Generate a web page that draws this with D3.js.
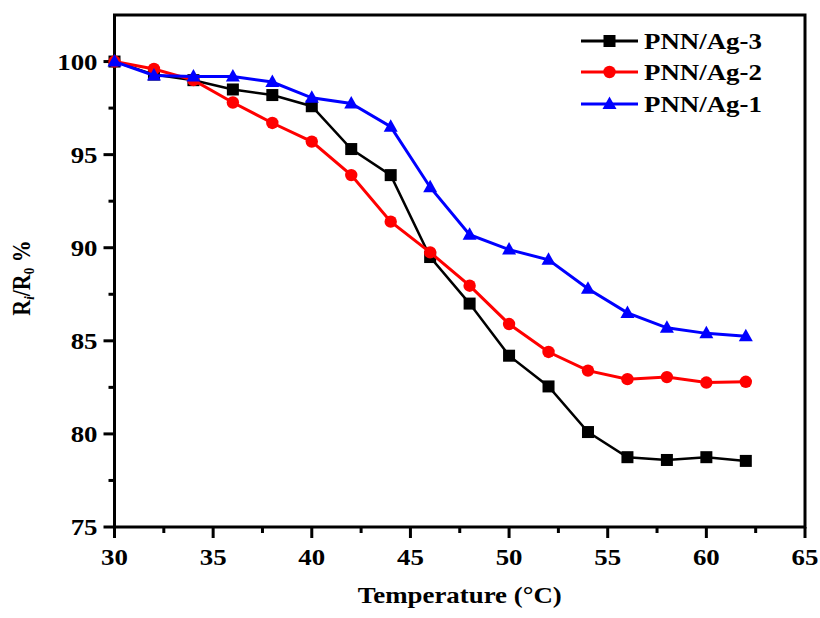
<!DOCTYPE html>
<html>
<head>
<meta charset="utf-8">
<script src="https://cdn.jsdelivr.net/npm/d3@7"></script>
<style>
  html, body { margin: 0; padding: 0; background: #fff; }
  svg { display: block; }
  text { font-family: "Liberation Serif", "Times New Roman", serif; font-weight: bold; fill: #000; }
</style>
</head>
<body>
<svg id="chart" width="820" height="618"></svg>
<script>
// Temperature points (°C)
const temperature = [30, 32, 34, 36, 38, 40, 42, 44, 46, 48, 50, 52, 54, 56, 58, 60, 62];

// Relative resistance Ri/R0 (%) for each sample
const ag3 = [100, 99.3, 99.0, 98.5, 98.2, 97.6, 95.3, 93.9, 89.5, 87.0, 84.2, 82.55, 80.1, 78.75, 78.6, 78.75, 78.55];
const ag2 = [100, 99.6, 99.0, 97.8, 96.7, 95.7, 93.9, 91.4, 89.75, 87.96, 85.9, 84.4, 83.4, 82.94, 83.05, 82.76, 82.8];
const ag1 = [100, 99.25, 99.2, 99.2, 98.9, 98.05, 97.75, 96.5, 93.25, 90.7, 89.9, 89.35, 87.8, 86.5, 85.7, 85.4, 85.25];

const seriesNames = ["PNN/Ag-3", "PNN/Ag-2", "PNN/Ag-1"];
const seriesColors = ["#000000", "#ff0000", "#0000ff"];
const seriesShapes = ["square", "circle", "triangle"];

const xTicks = [30, 35, 40, 45, 50, 55, 60, 65];
const yTicks = [75, 80, 85, 90, 95, 100];

const series = [ag3, ag2, ag1].map((vals, i) => ({
  name: seriesNames[i],
  color: seriesColors[i],
  shape: seriesShapes[i],
  points: vals.map((v, j) => ({ t: temperature[j], v }))
}));

const svg = d3.select("#chart");
const plot = { left: 114.5, right: 805, top: 15, bottom: 527 };
const stretch = 1.12; // horizontal stretch of text glyphs

const x = d3.scaleLinear().domain([30, 65]).range([plot.left, plot.right]);
const y = d3.scaleLinear().domain([75, 102.5]).range([plot.bottom, plot.top]);

// Minor ticks
const xMinor = d3.range(32.5, 65, 5);
const yMinor = d3.range(77.5, 102.5, 5);

const axisG = svg.append("g");
axisG.selectAll(".xmaj").data(xTicks).join("line")
  .attr("x1", d => x(d)).attr("x2", d => x(d))
  .attr("y1", plot.bottom).attr("y2", plot.bottom + 11)
  .attr("stroke", "#000").attr("stroke-width", 3);
axisG.selectAll(".xmin").data(xMinor).join("line")
  .attr("x1", d => x(d)).attr("x2", d => x(d))
  .attr("y1", plot.bottom).attr("y2", plot.bottom + 6)
  .attr("stroke", "#000").attr("stroke-width", 3);
axisG.selectAll(".ymaj").data(yTicks).join("line")
  .attr("x1", plot.left - 11).attr("x2", plot.left)
  .attr("y1", d => y(d)).attr("y2", d => y(d))
  .attr("stroke", "#000").attr("stroke-width", 3);
axisG.selectAll(".ymin").data(yMinor).join("line")
  .attr("x1", plot.left - 6).attr("x2", plot.left)
  .attr("y1", d => y(d)).attr("y2", d => y(d))
  .attr("stroke", "#000").attr("stroke-width", 3);

// Frame
svg.append("rect")
  .attr("x", plot.left).attr("y", plot.top)
  .attr("width", plot.right - plot.left).attr("height", plot.bottom - plot.top)
  .attr("fill", "none").attr("stroke", "#000").attr("stroke-width", 3);

// Tick labels
svg.selectAll(".xlab").data(xTicks).join("g")
  .attr("transform", d => `translate(${x(d)},${plot.bottom + 38}) scale(${stretch},1)`)
  .append("text")
  .attr("text-anchor", "middle")
  .attr("font-size", 24)
  .text(d => d);

svg.selectAll(".ylab").data(yTicks).join("g")
  .attr("transform", d => `translate(${plot.left - 17},${y(d) + 8}) scale(${stretch},1)`)
  .append("text")
  .attr("text-anchor", "end")
  .attr("font-size", 24)
  .text(d => d);

// Axis titles
svg.append("g")
  .attr("transform", `translate(${(plot.left + plot.right) / 2},603) scale(${stretch},1)`)
  .append("text")
  .attr("text-anchor", "middle")
  .attr("font-size", 24)
  .text("Temperature (°C)");

const yTitle = svg.append("g")
  .attr("transform", "translate(30,278) rotate(-90) scale(1,1.12)")
  .append("text")
  .attr("text-anchor", "middle")
  .attr("font-size", 22);
yTitle.append("tspan").text("R");
yTitle.append("tspan").attr("font-size", 13).attr("font-style", "italic").attr("dy", 4).text("i");
yTitle.append("tspan").attr("dy", -4).text("/R");
yTitle.append("tspan").attr("font-size", 13).attr("dy", 4).text("0");
yTitle.append("tspan").attr("dy", -4).text(" %");

// Marker drawing
function drawMarker(sel, shape, color) {
  if (shape === "square") {
    sel.append("rect").attr("x", -6).attr("y", -6).attr("width", 12).attr("height", 12).attr("fill", color);
  } else if (shape === "circle") {
    sel.append("circle").attr("r", 6.2).attr("fill", color);
  } else {
    sel.append("path").attr("d", "M0,-7.5 L7,5 L-7,5 Z").attr("fill", color);
  }
}

const line = d3.line().x(d => x(d.t)).y(d => y(d.v));

// Black first, then red, blue on top
series.forEach(s => {
  const g = svg.append("g");
  g.append("path")
    .datum(s.points)
    .attr("d", line)
    .attr("fill", "none")
    .attr("stroke", s.color)
    .attr("stroke-width", s.shape === "square" ? 2.5 : 3);
  g.selectAll("g.m").data(s.points).join("g")
    .attr("transform", d => `translate(${x(d.t)},${y(d.v)})`)
    .each(function () { drawMarker(d3.select(this), s.shape, s.color); });
});

// Legend
const legendRows = [41, 72, 104];
series.forEach((s, i) => {
  const g = svg.append("g").attr("transform", `translate(0,${legendRows[i]})`);
  g.append("line").attr("x1", 581).attr("x2", 638).attr("y1", 0).attr("y2", 0)
    .attr("stroke", s.color).attr("stroke-width", 3);
  const m = g.append("g").attr("transform", "translate(609.5,0)");
  drawMarker(m, s.shape, s.color);
  g.append("g").attr("transform", `translate(644,8) scale(${stretch},1)`)
    .append("text").attr("font-size", 24).text(s.name);
});
</script>
</body>
</html>
